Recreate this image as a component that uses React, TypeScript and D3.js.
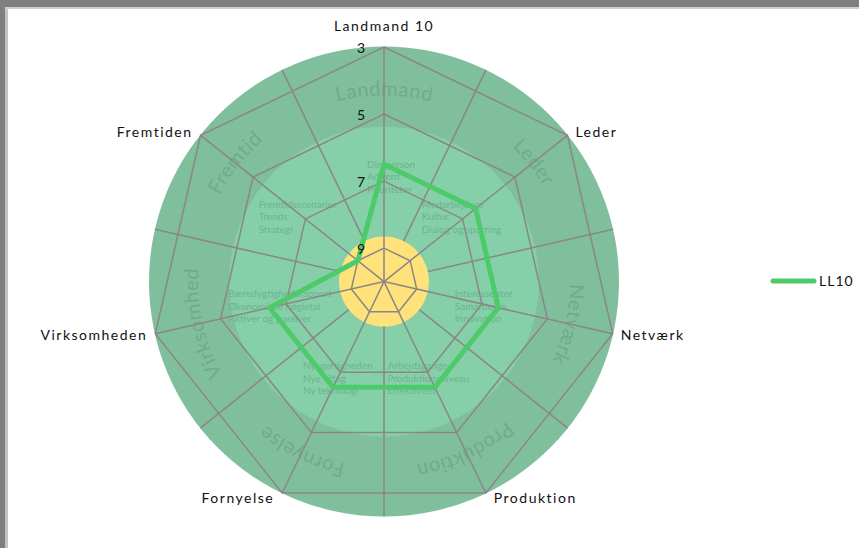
import React from "react";
import * as d3 from "d3";

const W = 859;
const H = 548;

// chart data
const axes = ["Landmand 10", "Leder", "Netværk", "Produktion", "Fornyelse", "Virksomheden", "Fremtiden"];
const ll10 = [6.5, 6.5, 6.5, 6.5, 6.5, 6.5, 9];
const ticks = [3, 5, 7, 9];
const seriesName = "LL10";

// texts in the background picture
const ringLabels = ["Landmand", "Leder", "Netværk", "Produktion", "Fornyelse", "Virksomhed", "Fremtid"];
const segmentTexts = [
  ["Din person", "Adfærd", "Prioriteter"],
  ["Medarbejdere", "Kultur", "Dialog og sparring"],
  ["Interessenter", "Samarbejde", "Innovation"],
  ["Arbejdsgange", "Produktionsniveau", "Effektivitet"],
  ["Nysgerrigheden", "Nye tiltag", "Ny teknologi"],
  ["Bæredygtighedsrapport", "Økonomiske nøgletal", "Aktiver og passiver"],
  ["Fremtidsscenarier", "Trends", "Strategi"],
];

const cx = 384;
const cy = 281.6;
const R = 234.6;
const font = "Lato, 'Open Sans', sans-serif";

const App = () => {
  const n = axes.length;
  const step = (2 * Math.PI) / n;
  // reversed radial axis: 10 at centre, 3 at the rim
  const r = d3.scaleLinear().domain([10, 3]).range([0, R]);
  const pt = (a: number, rad: number): [number, number] => [cx + rad * Math.sin(a), cy - rad * Math.cos(a)];

  const radial = d3
    .lineRadial<number>()
    .angle((_, i) => i * step)
    .curve(d3.curveLinearClosed);

  const gridPath = (v: number) => radial.radius(() => r(v))(axes.map(() => v)) as string;
  const seriesPath = radial.radius((d) => r(d))(ll10) as string;

  // circle path for the ring labels, starting at the bottom, clockwise
  const tr = 186;
  const circ = 2 * Math.PI * tr;
  const ringPath = `M${cx},${cy + tr} A${tr},${tr} 0 1 1 ${cx},${cy - tr} A${tr},${tr} 0 1 1 ${cx},${cy + tr}`;

  const gridColor = "#8b8687";

  return (
    <svg width={W} height={H} style={{ position: "absolute", left: 0, top: 0, background: "#fff" }}>
      {/* window frame */}
      <rect x={0} y={0} width={W} height={7} fill="#7f7f7f" />
      <rect x={0} y={7} width={W} height={2} fill="#cfcfcf" />
      <rect x={0} y={0} width={5} height={H} fill="#7f7f7f" />
      <rect x={5} y={9} width={3} height={H} fill="#c4c4c4" />

      {/* background picture */}
      <circle cx={cx} cy={cy} r={235} fill="#80bf9c" />
      <circle cx={cx} cy={cy} r={155} fill="#85d0a8" />
      <circle cx={cx} cy={cy} r={45} fill="#ffe27a" />
      <defs>
        <path id="ringPath" d={ringPath} />
      </defs>
      {ringLabels.map((t, i) => (
        <text key={t} fontFamily={font} fontSize={20} fill="#72aa8b" textAnchor="middle" letterSpacing={0.5}>
          <textPath href="#ringPath" startOffset={((((i * 360) / n + 180) % 360) / 360) * circ}>
            {t}
          </textPath>
        </text>
      ))}
      {segmentTexts.map((lines, i) => {
        const [x, y] = pt(i * step, 106);
        const maxLen = d3.max(lines, (l) => l.length) as number;
        const x0 = i === 0 ? cx - 17 : x - maxLen * 2.5;
        return (
          <text key={i} fontFamily={font} fontSize={10} fill="#6eb38d">
            {lines.map((l, j) => (
              <tspan key={j} x={x0} y={y - 8 + j * 12.5}>
                {l}
              </tspan>
            ))}
          </text>
        );
      })}
      {/* half-angle dividers of the picture */}
      {axes.map((_, i) => {
        const a = (i + 0.5) * step;
        const [x1, y1] = pt(a, 45);
        const [x2, y2] = pt(a, 235);
        return <line key={i} x1={x1} y1={y1} x2={x2} y2={y2} stroke={gridColor} strokeWidth={1.5} />;
      })}

      {/* radar grid */}
      <g transform={`translate(${cx},${cy})`}>
        {ticks.map((v) => (
          <path key={v} d={gridPath(v)} fill="none" stroke={gridColor} strokeWidth={1.5} />
        ))}
      </g>
      {axes.map((_, i) => {
        const [x2, y2] = pt(i * step, R);
        return <line key={i} x1={cx} y1={cy} x2={x2} y2={y2} stroke={gridColor} strokeWidth={1.5} />;
      })}

      {/* series */}
      <g transform={`translate(${cx},${cy})`}>
        <path d={seriesPath} fill="none" stroke="#4dcb6b" strokeWidth={5} strokeLinejoin="round" />
      </g>

      {/* tick labels */}
      {ticks.map((v) => (
        <text key={v} x={cx - 19} y={cy - r(v) + 6} textAnchor="end" fontFamily={font} fontSize={14} fill="#111">
          {v}
        </text>
      ))}

      {/* axis labels */}
      {axes.map((t, i) => {
        const a = i * step;
        const [vx, vy] = pt(a, R);
        const s = Math.sin(a);
        const c = Math.cos(a);
        const anchor = s > 0.1 ? "start" : s < -0.1 ? "end" : "middle";
        const x = vx + (s > 0.1 ? 8 : s < -0.1 ? -8 : 0);
        const y = c > 0.99 ? vy - 16 : vy + 5 - c * 6;
        return (
          <text key={t} x={x} y={y} textAnchor={anchor} fontFamily={font} fontSize={14} letterSpacing={1.5} fill="#111">
            {t}
          </text>
        );
      })}

      {/* legend */}
      <line x1={773} y1={281} x2={814} y2={281} stroke="#4dcb6b" strokeWidth={5} strokeLinecap="round" />
      <text x={819} y={286} fontFamily={font} fontSize={14} letterSpacing={1} fill="#111">
        {seriesName}
      </text>
    </svg>
  );
};

export default App;
